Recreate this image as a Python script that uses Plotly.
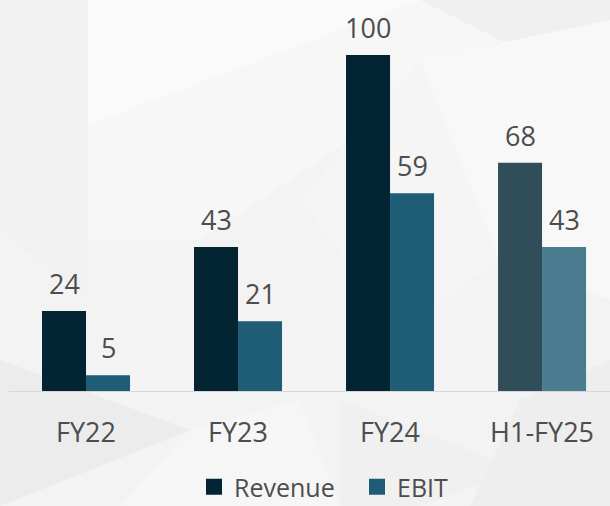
import plotly.graph_objects as go

categories = ["FY22", "FY23", "FY24", "H1-FY25"]
revenue = [24, 43, 100, 68]
ebit = [5, 21, 59, 43]

rev_colors = ["#022433", "#022433", "#022433", "#304e5a"]
ebit_colors = ["#1f5c75", "#1f5c75", "#1f5c75", "#4a7b8f"]
REV_LEG = "#022433"
EBIT_LEG = "#1f5c75"
TXT = "#4d4d4d"
FONT = "Open Sans"

W, H = 610, 506
L, R, T, B = 10, 0, 20, 114
PW, PH = W - L - R, H - T - B

fig = go.Figure()
fig.add_trace(go.Bar(name="Revenue", x=categories, y=revenue, showlegend=False,
                     marker=dict(color=rev_colors, line=dict(width=0)),
                     offsetgroup="rev", hoverinfo="x+y"))
fig.add_trace(go.Bar(name="EBIT", x=categories, y=ebit, showlegend=False,
                     marker=dict(color=ebit_colors, line=dict(width=0)),
                     offsetgroup="ebit", hoverinfo="x+y"))
# legend-only entries (square swatches)
fig.add_trace(go.Scatter(name="Revenue", x=[None], y=[None], mode="markers",
                         marker=dict(symbol="square", size=16, color=REV_LEG)))
fig.add_trace(go.Scatter(name="EBIT", x=[None], y=[None], mode="markers",
                         marker=dict(symbol="square", size=16, color=EBIT_LEG)))

annotations = []
for cat, v in zip(categories, revenue):
    annotations.append(dict(x=cat, y=v, xref="x", yref="y", text=str(v), showarrow=False,
                            xshift=-22, yanchor="bottom", yshift=7,
                            font=dict(family=FONT, size=27, color=TXT)))
for cat, v in zip(categories, ebit):
    annotations.append(dict(x=cat, y=v, xref="x", yref="y", text=str(v), showarrow=False,
                            xshift=22, yanchor="bottom", yshift=7,
                            font=dict(family=FONT, size=27, color=TXT)))


def px(xp, yp):
    return (xp - L) / PW, (H - B - yp) / PH


def poly(points, color):
    pts = [px(a, b) for a, b in points]
    path = "M " + " L ".join(f"{a:.4f} {b:.4f}" for a, b in pts) + " Z"
    return dict(type="path", xref="paper", yref="paper", path=path,
                fillcolor=color, line=dict(width=0), layer="below")


shapes = [
    poly([(0, 0), (610, 0), (610, 506), (0, 506)], "#f3f3f3"),
    poly([(88, 0), (420, 0), (88, 125)], "#fafafa"),
    poly([(88, 125), (420, 0), (560, 0), (200, 240), (88, 240)], "#f7f7f7"),
    poly([(0, 0), (88, 0), (88, 300), (0, 230)], "#f1f1f1"),
    poly([(420, 0), (610, 0), (610, 60), (520, 50)], "#f0f0f0"),
    poly([(420, 60), (610, 20), (610, 300), (500, 260)], "#f8f8f8"),
    poly([(300, 200), (420, 60), (500, 260), (400, 330)], "#f5f5f5"),
    poly([(0, 360), (190, 430), (0, 506)], "#ececec"),
    poly([(190, 430), (300, 400), (340, 506), (120, 506)], "#f6f6f6"),
    poly([(340, 400), (520, 470), (420, 506), (340, 506)], "#f0f0f0"),
    poly([(520, 400), (610, 360), (610, 506), (470, 506)], "#eeeeee"),
    dict(type="line", xref="paper", yref="y", x0=px(9, 0)[0], x1=1, y0=0, y1=0,
         line=dict(color="#d6d6d6", width=2), layer="above"),
]

fig.update_layout(
    width=W, height=H,
    margin=dict(l=L, r=R, t=T, b=B, autoexpand=False),
    paper_bgcolor="#f3f3f3",
    plot_bgcolor="rgba(0,0,0,0)",
    barmode="group", bargap=0.421, bargroupgap=0,
    font=dict(family=FONT, color=TXT),
    xaxis=dict(range=[-0.5, 3.447], showgrid=False, zeroline=False,
               showline=False, tickfont=dict(family=FONT, size=27, color=TXT),
               ticks="", ticklabelstandoff=22, automargin=False),
    yaxis=dict(range=[0, PH / 3.37], visible=False, automargin=False),
    legend=dict(orientation="h", x=px(194, 0)[0], xanchor="left",
                y=(H - B - 487) / PH, yanchor="middle",
                font=dict(family=FONT, size=25, color=TXT),
                bgcolor="rgba(0,0,0,0)", itemwidth=30, tracegroupgap=0,
                borderwidth=0, entrywidth=118, entrywidthmode="pixels"),
    showlegend=True,
    shapes=shapes,
    annotations=annotations,
)

fig.write_html("out.html", config={"displayModeBar": False},
               post_script="document.body.style.margin='0';")
